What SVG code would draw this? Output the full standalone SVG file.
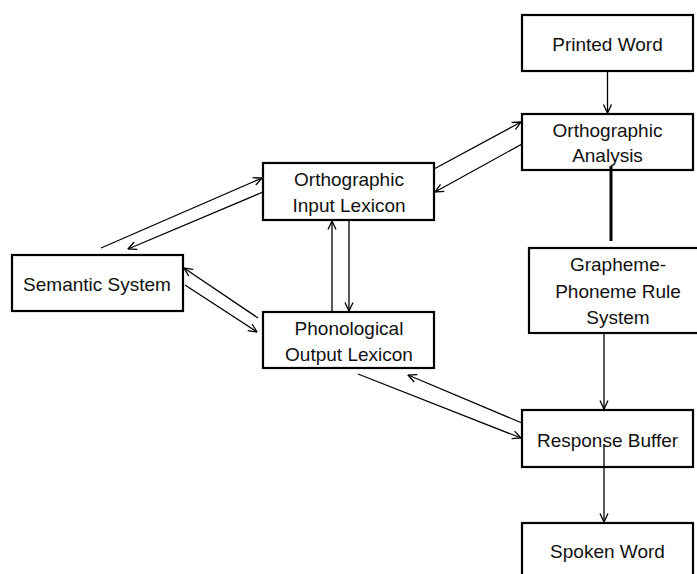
<svg xmlns="http://www.w3.org/2000/svg" width="697" height="574" viewBox="0 0 697 574">
  <defs>
    <style>
      .box { fill: #ffffff; stroke: #000000; stroke-width: 2.2; }
      .lbl { font-family: "Liberation Sans", Arial, sans-serif; font-size: 19px; fill: #111111; text-anchor: middle; }
      .link { stroke: #000000; stroke-width: 1.3; fill: none; }
      .thick { stroke: #000000; stroke-width: 3; fill: none; }
    </style>
    <marker id="arrow" viewBox="0 0 10 10" refX="9.5" refY="5" markerWidth="10" markerHeight="10" markerUnits="userSpaceOnUse" orient="auto">
      <path d="M1,1 L9.5,5 L1,9" fill="none" stroke="#000000" stroke-width="1.3"/>
    </marker>
  </defs>

  <rect width="697" height="574" fill="#ffffff"/>

  <g id="printed-word">
    <rect class="box" x="522" y="15" width="171" height="56"/>
    <text class="lbl" x="607.5" y="51">Printed Word</text>
  </g>

  <g id="orthographic-analysis">
    <rect class="box" x="522" y="114" width="171" height="56"/>
    <text class="lbl" x="607.5" y="137">Orthographic</text>
    <text class="lbl" x="607.5" y="162">Analysis</text>
  </g>

  <g id="grapheme-phoneme">
    <rect class="box" x="529" y="248" width="175" height="85"/>
    <text class="lbl" x="618" y="271">Grapheme-</text>
    <text class="lbl" x="618" y="298">Phoneme Rule</text>
    <text class="lbl" x="618" y="324">System</text>
  </g>

  <g id="response-buffer">
    <rect class="box" x="522" y="410" width="171" height="57"/>
    <text class="lbl" x="607.5" y="447">Response Buffer</text>
  </g>

  <g id="spoken-word">
    <rect class="box" x="522" y="523" width="171" height="60"/>
    <text class="lbl" x="607.5" y="558">Spoken Word</text>
  </g>

  <g id="semantic-system">
    <rect class="box" x="12" y="255" width="171" height="56"/>
    <text class="lbl" x="97" y="291">Semantic System</text>
  </g>

  <g id="orthographic-input-lexicon">
    <rect class="box" x="263" y="163" width="171" height="57"/>
    <text class="lbl" x="349" y="186">Orthographic</text>
    <text class="lbl" x="349" y="212">Input Lexicon</text>
  </g>

  <g id="phonological-output-lexicon">
    <rect class="box" x="263" y="312" width="171" height="56"/>
    <text class="lbl" x="349" y="335">Phonological</text>
    <text class="lbl" x="349" y="361">Output Lexicon</text>
  </g>

  <!-- connectors, drawn last so lines that start inside a box show over its label -->
  <g id="connectors">
    <line class="link" x1="607.5" y1="71" x2="607.5" y2="113" marker-end="url(#arrow)"/>
    <line class="thick" x1="611" y1="166" x2="611" y2="241"/>
    <line class="link" x1="604" y1="333" x2="604" y2="409" marker-end="url(#arrow)"/>
    <line class="link" x1="604" y1="444" x2="604" y2="522" marker-end="url(#arrow)"/>
    <!-- orthographic input lexicon <-> orthographic analysis -->
    <line class="link" x1="434" y1="169" x2="521" y2="122" marker-end="url(#arrow)"/>
    <line class="link" x1="522" y1="144" x2="435" y2="192" marker-end="url(#arrow)"/>
    <!-- semantic system <-> orthographic input lexicon -->
    <line class="link" x1="101" y1="248" x2="262" y2="178" marker-end="url(#arrow)"/>
    <line class="link" x1="263" y1="192" x2="128" y2="249" marker-end="url(#arrow)"/>
    <!-- orthographic input lexicon <-> phonological output lexicon -->
    <line class="link" x1="332" y1="312" x2="332" y2="221" marker-end="url(#arrow)"/>
    <line class="link" x1="349" y1="220" x2="349" y2="311" marker-end="url(#arrow)"/>
    <!-- semantic system <-> phonological output lexicon -->
    <line class="link" x1="258" y1="318" x2="184" y2="268" marker-end="url(#arrow)"/>
    <line class="link" x1="185" y1="285" x2="257" y2="332" marker-end="url(#arrow)"/>
    <!-- phonological output lexicon <-> response buffer -->
    <line class="link" x1="358" y1="374" x2="521" y2="438" marker-end="url(#arrow)"/>
    <line class="link" x1="522" y1="423" x2="408" y2="375" marker-end="url(#arrow)"/>
  </g>
</svg>
